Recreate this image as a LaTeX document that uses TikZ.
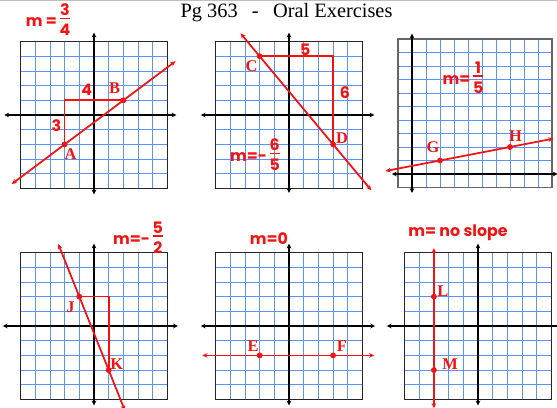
\documentclass[tikz,border=0pt]{standalone}
\usepackage{fontspec}
\setmainfont{Liberation Serif}
\newfontfamily\handfont{Poppins}
\usetikzlibrary{arrows.meta}

\definecolor{gridblue}{RGB}{95,145,250}
\definecolor{penred}{RGB}{242,20,20}
\newcommand{\hfrac}[2]{\setlength{\arrayrulewidth}{1.4pt}\begin{tabular}{@{}c@{}}#1\\[-2pt]\hline\rule{0pt}{1.05em}#2\end{tabular}}

\begin{document}
\begin{tikzpicture}[x=0.03cm,y=-0.03cm]
      \tikzstyle{cell}=[gridblue, line width=0.55pt]
      \tikzstyle{frame}=[black!85, line width=1.1pt]
      \tikzstyle{axis}=[black, line width=1.3pt, {Stealth[length=4pt,width=4pt]}-{Stealth[length=4pt,width=4pt]}]
      \tikzstyle{pen}=[penred, line width=1.5pt]
      \tikzstyle{penline}=[pen, {Stealth[length=4.5pt,width=4pt]}-{Stealth[length=4.5pt,width=4pt]}]
      \tikzstyle{dot}=[circle, fill=penred, inner sep=0pt, minimum size=5pt]
      \tikzstyle{ptlabel}=[penred, font=\bfseries\fontsize{14}{14}\selectfont, inner sep=0pt]
      \tikzstyle{hand}=[penred, font=\handfont\bfseries\fontsize{13.5}{13.5}\selectfont, inner sep=0pt]

      \useasboundingbox (0,0) rectangle (557,407);
      \fill[white] (0,0) rectangle (557,407);
      \draw[black!25, line width=1pt] (0,0.5) -- (557,0.5);

      \node (title) [anchor=base, font=\fontsize{17.4}{18}\selectfont, inner sep=0pt] at (286.5,17.5)
        {Pg 363\hspace{0.7em}-\hspace{0.7em}Oral Exercises};

      % panel A B
      \begin{scope}[shift={(94,115)}, x=0.441cm, y=0.441cm]
        \draw[cell, step=1] (-5,-5) grid (5,5);
        \draw[frame] (-5,-5) rectangle (5,5);
        \coordinate (p1-xl) at (-6.1,0);
        \coordinate (p1-xr) at (5.6,0);
        \coordinate (p1-yt) at (0,5.6);
        \coordinate (p1-yb) at (0,-5.4);
        \draw[axis] (p1-xl) -- (p1-xr);
        \draw[axis] (p1-yb) -- (p1-yt);

        \node [dot] (A) at (-2,-2) {};
        \node [dot] (B) at (2,1) {};
        \coordinate (ab-start) at (-5.6,-4.7);
        \coordinate (ab-end) at (5.55,3.66);
        \draw[penline] (ab-start) -- (ab-end);
        \draw[pen] (A.center) |- (B.center);
        \node [ptlabel] (A-text) at (-1.6,-2.65) {A};
        \node [ptlabel] (B-text) at (1.4,1.8) {B};
        \node [hand] (rise1) at (-2.55,-0.75) {3};
        \node [hand] (run1) at (-0.5,1.7) {4};
      \end{scope}

      % panel C D
      \begin{scope}[shift={(289,115)}, x=0.441cm, y=0.441cm]
        \draw[cell, step=1] (-5,-5) grid (5,5);
        \draw[frame] (-5,-5) rectangle (5,5);
        \coordinate (p2-xl) at (-6,0);
        \coordinate (p2-xr) at (5.8,0);
        \coordinate (p2-yt) at (0,5.6);
        \coordinate (p2-yb) at (0,-5.3);
        \draw[axis] (p2-xl) -- (p2-xr);
        \draw[axis] (p2-yb) -- (p2-yt);

        \node [dot] (C) at (-2,4) {};
        \node [dot] (D) at (3,-2) {};
        \coordinate (cd-start) at (-3.3,5.56);
        \coordinate (cd-end) at (5.6,-5.12);
        \draw[penline] (cd-start) -- (cd-end);
        \draw[pen] (C.center) -| (D.center);
        \node [ptlabel] (C-text) at (-2.55,3.3) {C};
        \node [ptlabel] (D-text) at (3.6,-1.55) {D};
        \node [hand] (run2) at (1.1,4.45) {5};
        \node [hand] (rise2) at (3.8,1.5) {6};
      \end{scope}

      % panel G H
      \begin{scope}[shift={(412,174)}, x=0.42cm, y=0.405cm]
        \draw[cell, step=1] (-1,-1) grid (10,10);
        \draw[frame, black!60] (-1,-1) rectangle (10,10);
        \coordinate (p3-xl) at (-1.43,0);
        \coordinate (p3-xr) at (10.4,0);
        \coordinate (p3-yt) at (0,10.4);
        \coordinate (p3-yb) at (0,-1.4);
        \draw[axis] (p3-xl) -- (p3-xr);
        \draw[axis] (p3-yb) -- (p3-yt);

        \node [dot] (G) at (2,1) {};
        \node [dot] (H) at (7,2) {};
        \coordinate (gh-start) at (-1.9,0.22);
        \coordinate (gh-end) at (10.1,2.62);
        \draw[penline] (gh-start) -- (gh-end);
        \node [ptlabel] (G-text) at (1.5,2.0) {G};
        \node [ptlabel] (H-text) at (7.4,2.8) {H};
      \end{scope}

      % panel J K
      \begin{scope}[shift={(94,326)}, x=0.441cm, y=0.441cm]
        \draw[cell, step=1] (-5,-5) grid (5,5);
        \draw[frame] (-5,-5) rectangle (5,5);
        \coordinate (p4-xl) at (-6.2,0);
        \coordinate (p4-xr) at (5.7,0);
        \coordinate (p4-yt) at (0,5.6);
        \coordinate (p4-yb) at (0,-5.4);
        \draw[axis] (p4-xl) -- (p4-xr);
        \draw[axis] (p4-yb) -- (p4-yt);

        \node [dot] (J) at (-1,2) {};
        \node [dot] (K) at (1,-3) {};
        \coordinate (jk-start) at (-2.43,5.58);
        \coordinate (jk-end) at (2.1,-5.75);
        \draw[penline] (jk-start) -- (jk-end);
        \draw[pen] (J.center) -| (K.center);
        \node [ptlabel] (J-text) at (-1.6,1.3) {J};
        \node [ptlabel] (K-text) at (1.55,-2.6) {K};
      \end{scope}

      % panel E F
      \begin{scope}[shift={(289,326)}, x=0.441cm, y=0.441cm]
        \draw[cell, step=1] (-5,-5) grid (5,5);
        \draw[frame] (-5,-5) rectangle (5,5);
        \coordinate (p5-xl) at (-6,0);
        \coordinate (p5-xr) at (5.85,0);
        \coordinate (p5-yt) at (0,5.6);
        \coordinate (p5-yb) at (0,-5.4);
        \draw[axis] (p5-xl) -- (p5-xr);
        \draw[axis] (p5-yb) -- (p5-yt);

        \node [dot] (E) at (-2,-2) {};
        \node [dot] (F) at (3,-2) {};
        \coordinate (ef-start) at (-5.9,-2);
        \coordinate (ef-end) at (5.8,-2);
        \draw[penline] (ef-start) -- (ef-end);
        \node [ptlabel] (E-text) at (-2.45,-1.4) {E};
        \node [ptlabel] (F-text) at (3.6,-1.4) {F};
      \end{scope}

      % panel L M
      \begin{scope}[shift={(478,326)}, x=0.441cm, y=0.441cm]
        \draw[cell, step=1] (-5,-5) grid (5,5);
        \draw[frame] (-5,-5) rectangle (5,5);
        \coordinate (p6-xl) at (-6.2,0);
        \coordinate (p6-xr) at (5.7,0);
        \coordinate (p6-yt) at (0,5.6);
        \coordinate (p6-yb) at (0,-5.4);
        \draw[axis] (p6-xl) -- (p6-xr);
        \draw[axis] (p6-yb) -- (p6-yt);

        \node [dot] (L) at (-3,2) {};
        \node [dot] (M) at (-3,-3) {};
        \coordinate (lm-start) at (-3,5.3);
        \coordinate (lm-end) at (-3,-5.6);
        \draw[penline] (lm-start) -- (lm-end);
        \node [ptlabel] (L-text) at (-2.4,2.4) {L};
        \node [ptlabel] (M-text) at (-1.9,-2.6) {M};
      \end{scope}

      % slopes
      \node [hand] (slope1) at (48,22) {m =\,\hfrac{3}{4}};
      \node [hand] (slope2) at (255,157) {m=-\,\hfrac{6}{5}};
      \node [hand] (slope3) at (463,80) {m=\,\hfrac{1}{5}};
      \node [hand] (slope4) at (138,240) {m=-\,\hfrac{5}{2}};
      \node [hand] (slope5) at (269,239) {m=0};
      \node [hand] (slope6) at (458,233) {m= no slope};
\end{tikzpicture}
\end{document}
